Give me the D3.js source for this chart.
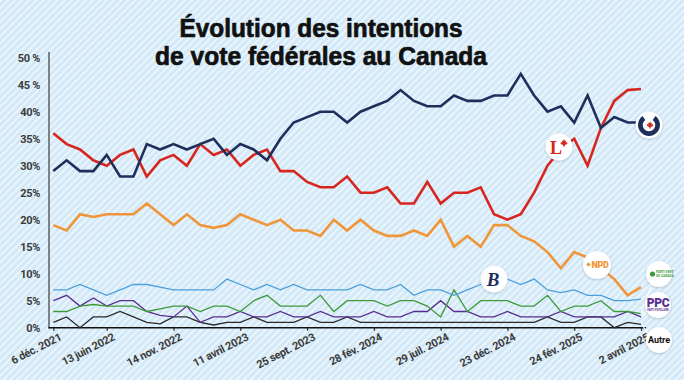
<!DOCTYPE html>
<html>
<head>
<meta charset="utf-8">
<script src="https://cdn.jsdelivr.net/npm/d3@7"></script>
<style>
html,body{margin:0;padding:0;background:#e0f0fa;}
svg{display:block;}
</style>
</head>
<body>
<svg id="chart" width="684" height="380"></svg>
<script>
// ---------- DATA ----------
const tickIndex = [0, 4, 9, 14, 19, 24, 29, 34, 39, 44];
const tickLabels = ["6 déc. 2021", "13 juin 2022", "14 nov. 2022", "11 avril 2023", "25 sept. 2023", "28 fév. 2024", "29 juil. 2024", "23 déc. 2024", "24 fév. 2025", "2 avril 2025"];
const yTicks = [0, 5, 10, 15, 20, 25, 30, 35, 40, 45, 50];
const yTickLabels = ["0%", "5%", "10%", "15%", "20%", "25%", "30%", "35%", "40%", "45 %", "50 %"];
const titleLines = ["Évolution des intentions", "de vote fédérales au Canada"];

const conservateur = [29,31,29,29,32,28,28,34,33,34,33,34,35,32,34,33,31,35,38,39,40,40,38,40,41,42,44,42,41,41,43,42,42,43,43,47,43,40,41,38,43,37,39,38,38];
const liberal      = [36,34,33,31,30,32,33,28,31,32,30,34,32,33,30,32,33,29,29,27,26,26,28,25,25,26,23,23,27,23,25,25,26,21,20,21,25,30,33,35,30,37,42,44,44.2];
const npd          = [19,18,21,20.5,21,21,21,23,21,19,21,19,18.5,19,21,20,19,20,18,18,17,20,18,20,18,17,17,18,17,20,15,17,15,19,19,17,16,14,11,14,13,11,9,6,7.5];
const bloc         = [7,7,8,7,6,7,8,8,7.5,7,7,7,7,9,8,7,8,7,8,7,7,7,7,8,7,7,8,6,7,7,6,7,8,9,9,8,9,7,6.5,7,6,6,5,5,5.3];
const vert         = [3,3,4,4.3,4,4,4,3,3.5,4,4,3,4,4,3,5,6,4,4,4,6,3,5,5,5,4,5,5,4,2,7,3,5,5,5,4,4,6,3,4,4,5,3,3,2.6];
const ppc          = [5,6,4,5.5,4,5,5,3,2.3,2,4,1,2,2,3,2,2,3,2,2,3,2,2,2,3,2,2,3,3,5,3,3,2,2,3,2,2,2,3,2,2,2,2,3,2];
const autre        = [1,2,0,2,2,3,2,1,0.7,2,2,1,0.5,1,1,2,1,1,1,2,1,1,2,1,1,1,1,1,1,1,1,1,1,1,1,1,1,2,1,1,2,2,0,1,0.6];

const seriesList = [
  {name:"Autre", values:autre, color:"#2a2a2a", width:1.3},
  {name:"PPC", values:ppc, color:"#5a2d91", width:1.3},
  {name:"Vert", values:vert, color:"#3d9a3a", width:1.3},
  {name:"Bloc", values:bloc, color:"#4a9fdc", width:1.3},
  {name:"NPD", values:npd, color:"#f0963a", width:2.6},
  {name:"Libéral", values:liberal, color:"#d6261f", width:2.6},
  {name:"Conservateur", values:conservateur, color:"#1e2f5c", width:2.6}
];

// ---------- SETUP ----------
const svg = d3.select("#chart");
const W = 684, H = 380;

const defs = svg.append("defs");
const pat = defs.append("pattern")
  .attr("id","stripes").attr("patternUnits","userSpaceOnUse")
  .attr("width",5).attr("height",5)
  .attr("patternTransform","rotate(45)");
pat.append("rect").attr("width",5).attr("height",5).attr("fill","#d4e9f7");
pat.append("rect").attr("width",1.6).attr("height",5).attr("fill","#eff8fe");

const shadow = defs.append("filter").attr("id","shadow")
  .attr("x","-40%").attr("y","-40%").attr("width","180%").attr("height","180%");
shadow.append("feDropShadow").attr("dx",0).attr("dy",0.8).attr("stdDeviation",1.2)
  .attr("flood-color","#3a5a78").attr("flood-opacity",0.35);

svg.append("rect").attr("width",W).attr("height",H).attr("fill","url(#stripes)");

const x = d3.scalePoint().domain(d3.range(conservateur.length)).range([53.3, 641]);
const y = d3.scaleLinear().domain([0,50]).range([327.7, 57.7]);

// Title (two separate lines)
svg.append("g").selectAll("text").data(titleLines).join("text")
  .attr("x",321).attr("y",(d,i)=>37 + i*28)
  .attr("text-anchor","middle")
  .attr("font-family","'Liberation Sans', Arial, sans-serif")
  .attr("font-weight",700).attr("font-size",25)
  .attr("textLength",(d,i)=> i===0 ? 283 : 332)
  .attr("lengthAdjust","spacingAndGlyphs")
  .attr("fill","#111").attr("stroke","#111").attr("stroke-width",0.7)
  .attr("stroke-linejoin","round")
  .text(d=>d);

// Y axis
svg.append("line").attr("x1",49).attr("x2",49).attr("y1",52).attr("y2",328.5)
  .attr("stroke","#555").attr("stroke-width",1.4);
svg.append("g").selectAll("text").data(yTicks).join("text")
  .attr("x",40).attr("y",d=>y(d)+4)
  .attr("text-anchor","end")
  .attr("font-family","Roboto, sans-serif").attr("font-weight",700).attr("font-size",11)
  .attr("letter-spacing","-0.3")
  .attr("fill","#3b3b3b")
  .text((d,i)=>yTickLabels[i]);

// X axis
const xAxis = d3.axisBottom(x)
  .tickValues(tickIndex)
  .tickSize(3)
  .tickFormat(d => tickLabels[tickIndex.indexOf(d)]);
const gx = svg.append("g").attr("transform",`translate(0,${y(0)})`).call(xAxis);
gx.select(".domain").attr("d","M48.5,0H646").attr("stroke","#111").attr("stroke-width",1.6);
gx.selectAll(".tick line").attr("stroke","#222").attr("stroke-width",1.2);
gx.selectAll(".tick text")
  .attr("font-family","Roboto, sans-serif").attr("font-weight",700).attr("font-size",11)
  .attr("letter-spacing","-0.3")
  .attr("fill","#3b3b3b")
  .attr("text-anchor","end")
  .attr("transform","translate(5,5) rotate(-27)")
  .attr("dy","0.7em").attr("y",0).attr("x",0);

// Lines
const line = d3.line().x((d,i)=>x(i)).y(d=>y(d)).curve(d3.curveLinear);
svg.append("g").selectAll("path").data(seriesList).join("path")
  .attr("d",d=>line(d.values))
  .attr("fill","none")
  .attr("stroke",d=>d.color)
  .attr("stroke-width",d=>d.width)
  .attr("stroke-linejoin","miter");

// ---------- LOGOS ----------
const leafPath = "M0,-5 L1.2,-2.5 L2.6,-3.1 L2,-0.4 L4.2,-1.6 L3.6,0.4 L4.8,1 L1,2.6 L1.3,4 L0.35,3.3 L0.35,5.2 L-0.35,5.2 L-0.35,3.3 L-1.3,4 L-1,2.6 L-4.8,1 L-3.6,0.4 L-4.2,-1.6 L-2,-0.4 L-2.6,-3.1 L-1.2,-2.5 Z";
const logos = svg.append("g");

function badge(cx, cy, r){
  logos.append("circle").attr("cx",cx).attr("cy",cy).attr("r",r)
    .attr("fill","#ffffff").attr("filter","url(#shadow)");
}
// connectors
const lastI = conservateur.length - 1;
logos.append("line").attr("x1",x(lastI)).attr("y1",y(vert[lastI])).attr("x2",652).attr("y2",284).attr("stroke","#fff").attr("stroke-width",1.2);
logos.append("line").attr("x1",x(lastI)+1).attr("y1",y(ppc[lastI])).attr("x2",648).attr("y2",310).attr("stroke","#fff").attr("stroke-width",1.2);
logos.append("line").attr("x1",x(lastI)+1).attr("y1",y(autre[lastI])).attr("x2",648).attr("y2",334).attr("stroke","#fff").attr("stroke-width",1.2);

// Conservative
badge(649,125,13.5);
logos.append("path").attr("d", d3.arc()({innerRadius:6.3, outerRadius:11, startAngle:Math.PI*0.2, endAngle:Math.PI*1.8}))
  .attr("transform","translate(649,125)").attr("fill","#1e2f5c");
logos.append("path").attr("d",leafPath).attr("transform","translate(650,125) scale(0.75)").attr("fill","#d6261f");

// Liberal
badge(559,147,13.5);
logos.append("text").attr("x",556).attr("y",154).attr("text-anchor","middle")
  .attr("font-family","'Liberation Serif', serif").attr("font-weight",700).attr("font-size",18)
  .attr("fill","#d6261f").text("L");
logos.append("path").attr("d",leafPath).attr("transform","translate(564,143) scale(0.8)").attr("fill","#d6261f");

// Bloc
badge(494,279,13.5);
logos.append("text").attr("x",493).attr("y",286).attr("text-anchor","middle")
  .attr("font-family","'Liberation Serif', serif").attr("font-style","italic").attr("font-weight",700).attr("font-size",19)
  .attr("fill","#1e2f5c").text("B");

// NPD
badge(597,265,14);
logos.append("path").attr("d",leafPath).attr("transform","translate(588.5,264.5) scale(0.5)").attr("fill","#f0963a");
logos.append("text").attr("x",600).attr("y",268.3).attr("text-anchor","middle")
  .attr("font-family","Roboto, sans-serif").attr("font-weight",900).attr("font-size",9)
  .attr("letter-spacing","-0.3")
  .attr("fill","#f0963a").text("NPD");

// Green
badge(659,274,13);
logos.append("circle").attr("cx",652.5).attr("cy",274).attr("r",2.6).attr("fill","#3d9a3a");
logos.append("text").attr("x",656).attr("y",273.3)
  .attr("font-family","Roboto, sans-serif").attr("font-weight",700).attr("font-size",3.2)
  .attr("fill","#3d9a3a").text("PARTI VERT");
logos.append("text").attr("x",656).attr("y",276.8)
  .attr("font-family","Roboto, sans-serif").attr("font-weight",700).attr("font-size",3.2)
  .attr("fill","#3d9a3a").text("DU CANADA");

// PPC
badge(658,305,13);
logos.append("text").attr("x",658).attr("y",307).attr("text-anchor","middle")
  .attr("font-family","Roboto, sans-serif").attr("font-weight",900).attr("font-size",12)
  .attr("letter-spacing","-0.4")
  .attr("fill","#5a2d91").text("PPC");
logos.append("text").attr("x",658).attr("y",311).attr("text-anchor","middle")
  .attr("font-family","Roboto, sans-serif").attr("font-weight",700).attr("font-size",2.6)
  .attr("fill","#5a2d91").text("PARTI POPULAIRE");

// Autre
badge(659,340,13);
logos.append("text").attr("x",659).attr("y",343.3).attr("text-anchor","middle")
  .attr("font-family","Roboto, sans-serif").attr("font-weight",700).attr("font-size",9)
  .attr("fill","#111").text("Autre");
</script>
</body>
</html>
